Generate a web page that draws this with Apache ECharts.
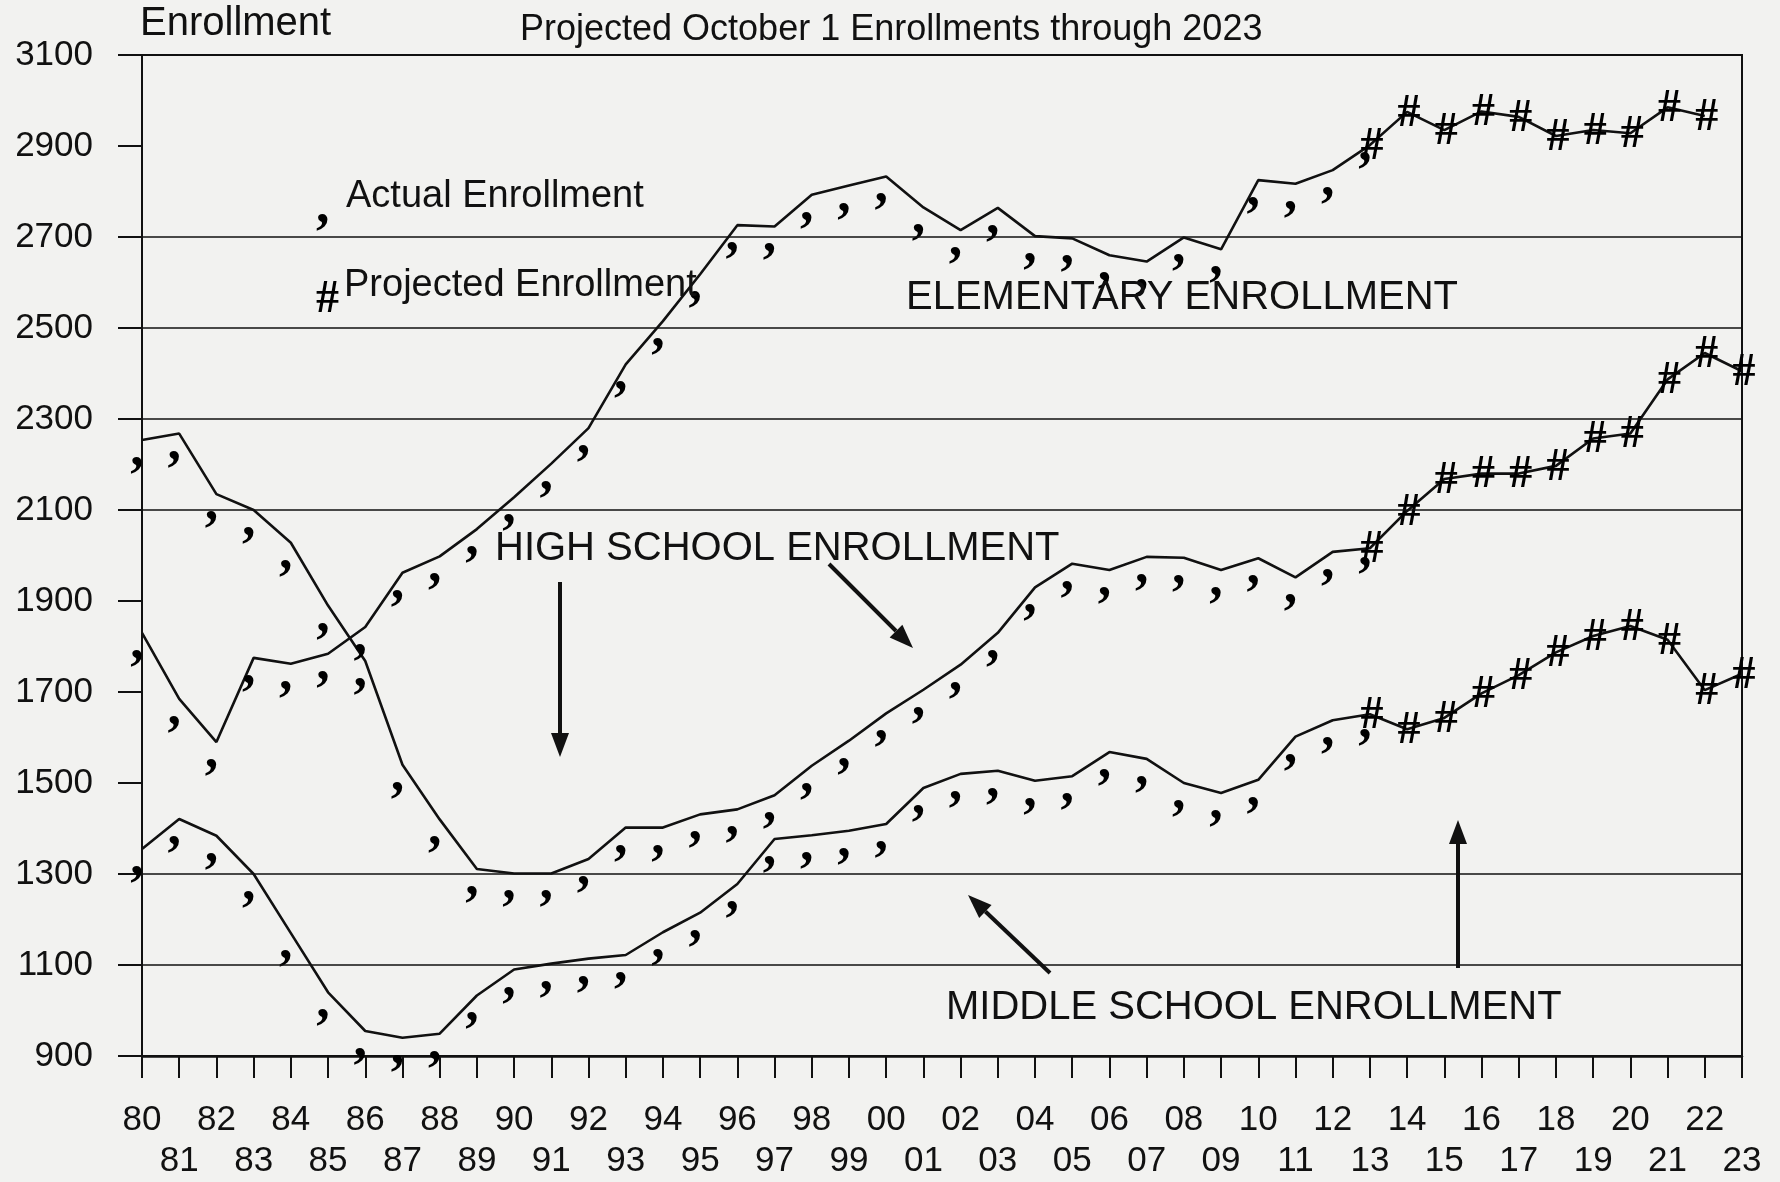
<!DOCTYPE html>
<html>
<head>
<meta charset="utf-8">
<title>Enrollment Projections</title>
<script src="https://cdn.jsdelivr.net/npm/echarts@6/dist/echarts.min.js"></script>
<style>
  html, body { margin: 0; padding: 0; background: #f2f2f0; }
  #chart { width: 1780px; height: 1182px; }
</style>
</head>
<body>
<div id="chart"></div>
<script>
// school years 1980 - 2023 (even years on the upper label row)
const years = ['80', '81', '82', '83', '84', '85', '86', '87', '88', '89',
               '90', '91', '92', '93', '94', '95', '96', '97', '98', '99',
               '00', '01', '02', '03', '04', '05', '06', '07', '08', '09',
               '10', '11', '12', '13', '14', '15', '16', '17', '18', '19',
               '20', '21', '22', '23'];

// actual October 1 enrollment, 1980 - 2013
const elementaryActual = [1830, 1685, 1590, 1775, 1762, 1784, 1843, 1962, 1998, 2058,
                          2128, 2202, 2280, 2420, 2515, 2618, 2726, 2723, 2793, 2813,
                          2833, 2765, 2715, 2764, 2702, 2697, 2660, 2646, 2699, 2673,
                          2825, 2817, 2847, 2925];
const highActual = [2254, 2268, 2135, 2100, 2028, 1890, 1768, 1540, 1420, 1311,
                    1301, 1301, 1333, 1402, 1402, 1431, 1442, 1473, 1538, 1593,
                    1653, 1705, 1760, 1830, 1930, 1982, 1968, 1997, 1995, 1968,
                    1994, 1952, 2008, 2034];
const middleActual = [1355, 1421, 1384, 1300, 1170, 1040, 955, 940, 949, 1033,
                      1090, 1103, 1114, 1122, 1172, 1215, 1278, 1377, 1385, 1395,
                      1410, 1489, 1520, 1527, 1505, 1515, 1568, 1553, 1500, 1478,
                      1507, 1602, 1638, 1655];

// projected enrollment from 2013 (elementary to 2022, others to 2023)
const elementaryProjected = [2902, 2975, 2935, 2976, 2964, 2922, 2935, 2928, 2985, 2966];
const highProjected = [2016, 2098, 2168, 2180, 2180, 2197, 2257, 2268, 2387, 2445, 2405];
const middleProjected = [1651, 1618, 1643, 1697, 1737, 1787, 1823, 1845, 1815, 1704, 1740];

// only some of the horizontal rules are printed
const gridValues = [1100, 1300, 2100, 2300, 2500, 2700];

const ink = '#111111';
const firstProjected = 33; // index of 2013

function lineData(actual, projected) {
  return actual.slice(0, firstProjected).concat(projected);
}
function hashData(projected) {
  return new Array(firstProjected).fill('-').concat(projected);
}

function lineSeries(name, data) {
  return {
    name: name, type: 'line', data: data, symbol: 'none', silent: true,
    lineStyle: { color: ink, width: 2.6 }, z: 3
  };
}
function markSeries(name, data, ch, font) {
  return {
    name: name, type: 'scatter', data: data, symbolSize: 1, silent: true,
    itemStyle: { color: 'rgba(0,0,0,0)' },
    label: Object.assign({
      show: true, formatter: ch, position: 'inside', color: '#000',
      textBorderWidth: 0, textBorderColor: 'transparent', opacity: 1
    }, font),
    z: 4
  };
}
const commaFont = { fontFamily: 'Liberation Serif', fontWeight: 'bold', fontSize: 54, offset: [-5, 11] };
const hashFont = { fontFamily: 'Liberation Serif', fontWeight: 'bold', fontSize: 46, offset: [2, 2] };

function arrow(x1, y1, x2, y2) {
  const a = Math.atan2(y2 - y1, x2 - x1);
  const len = 24, w = 9;
  const bx = x2 - len * Math.cos(a), by = y2 - len * Math.sin(a);
  return [
    { type: 'line', shape: { x1: x1, y1: y1, x2: bx, y2: by }, style: { stroke: ink, lineWidth: 4 } },
    { type: 'polygon', shape: { points: [[x2, y2], [bx + w * Math.sin(a), by - w * Math.cos(a)], [bx - w * Math.sin(a), by + w * Math.cos(a)]] },
      style: { fill: ink } }
  ];
}
function text(str, x, y, size, extra) {
  return {
    type: 'text', x: x, y: y, z: 10,
    style: Object.assign({ text: str, fill: ink, fontFamily: 'Liberation Sans', fontSize: size,
                           textVerticalAlign: 'middle' }, extra || {})
  };
}

const chart = echarts.init(document.getElementById('chart'));
chart.setOption({
  backgroundColor: '#f2f2f0',
  animation: false,
  grid: { left: 142, right: 38, top: 55, bottom: 126, show: true, borderColor: ink, borderWidth: 2 },
  xAxis: {
    type: 'category', data: years, boundaryGap: false,
    axisLine: { lineStyle: { color: ink, width: 2.5 } },
    axisTick: { show: true, interval: 0, length: 22, lineStyle: { color: ink, width: 2 } },
    axisLabel: {
      interval: 0, margin: 44, color: ink, fontFamily: 'Liberation Sans', fontSize: 35, lineHeight: 41,
      formatter: function (v, i) { return i % 2 === 0 ? v : '\n' + v; }
    },
    splitLine: { show: false }
  },
  yAxis: {
    type: 'value', min: 900, max: 3100, interval: 200,
    axisLine: { show: true, lineStyle: { color: ink, width: 2 } },
    axisTick: { show: true, length: 24, lineStyle: { color: ink, width: 2 } },
    axisLabel: { margin: 49, color: ink, fontFamily: 'Liberation Sans', fontSize: 35,
                 formatter: function (v) { return String(v); } },
    splitLine: { show: false }
  },
  series: [
    {
      type: 'line', data: [], silent: true,
      markLine: {
        silent: true, symbol: 'none', label: { show: false },
        lineStyle: { color: ink, width: 1.6, type: 'solid' },
        data: gridValues.map(v => ({ yAxis: v }))
      }
    },
    lineSeries('Elementary', lineData(elementaryActual, elementaryProjected)),
    lineSeries('High School', lineData(highActual, highProjected)),
    lineSeries('Middle School', lineData(middleActual, middleProjected)),
    markSeries('Elementary actual', elementaryActual, ',', commaFont),
    markSeries('High School actual', highActual, ',', commaFont),
    markSeries('Middle School actual', middleActual, ',', commaFont),
    markSeries('Elementary projected', hashData(elementaryProjected), '#', hashFont),
    markSeries('High School projected', hashData(highProjected), '#', hashFont),
    markSeries('Middle School projected', hashData(middleProjected), '#', hashFont)
  ],
  graphic: [
    text('Enrollment', 140, 24, 40),
    text('Projected October 1 Enrollments through 2023', 520, 30, 36),
    text(',', 316, 208, 54, { fontFamily: 'Liberation Serif', fontWeight: 'bold', fill: '#000' }),
    text('Actual Enrollment', 346, 197, 38),
    text('#', 316, 300, 46, { fontFamily: 'Liberation Serif', fontWeight: 'bold', fill: '#000' }),
    text('Projected Enrollment', 344, 286, 38),
    text('ELEMENTARY ENROLLMENT', 906, 298, 40),
    text('HIGH SCHOOL ENROLLMENT', 495, 549, 40),
    text('MIDDLE SCHOOL ENROLLMENT', 946, 1008, 40)
  ].concat(
    arrow(560, 582, 560, 757),
    arrow(829, 564, 913, 648),
    arrow(1050, 973, 968, 895),
    arrow(1458, 968, 1458, 820)
  )
});
</script>
</body>
</html>
